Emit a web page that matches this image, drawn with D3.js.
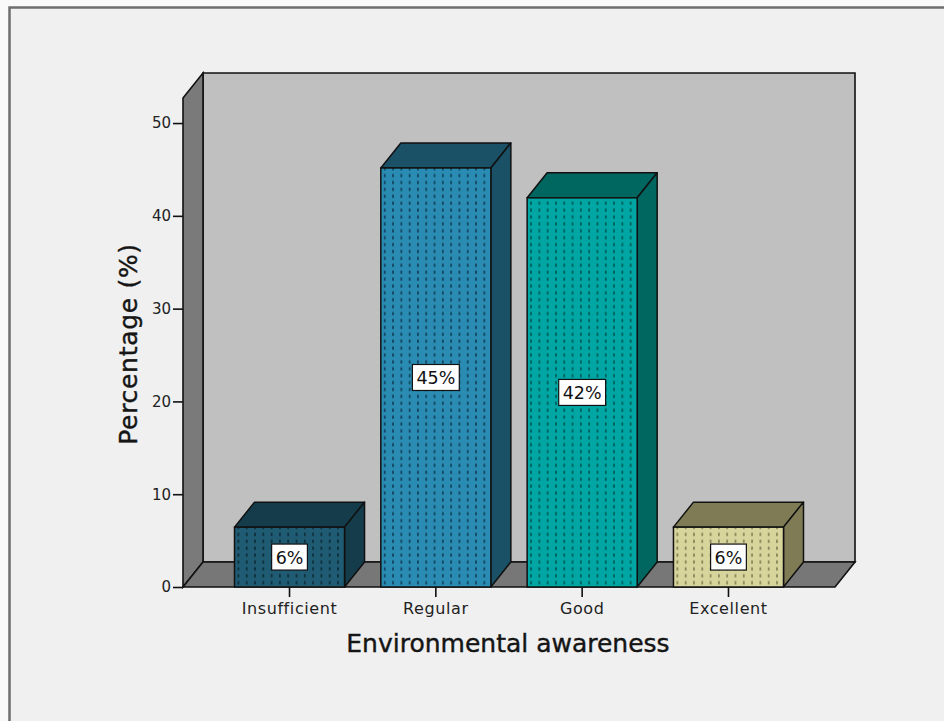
<!DOCTYPE html>
<html>
<head>
<meta charset="utf-8">
<script src="https://cdn.jsdelivr.net/npm/d3@7"></script>
<style>
  html, body { margin: 0; padding: 0; background: #f9f9f9; }
  svg { display: block; }
  text { font-family: "DejaVu Sans", Verdana, sans-serif; }
</style>
</head>
<body>
<svg id="chart" width="944" height="721"></svg>
<script>
// Environmental awareness levels and their share of respondents (%)
const categories = ["Insufficient", "Regular", "Good", "Excellent"];
const percentages = [6.45, 45.16, 41.94, 6.45];
const yTicks = [0, 10, 20, 30, 40, 50];

// Bar colours: front face, shaded top/side faces, dotted texture
const frontColors = ["#1f5b72", "#2a8cb2", "#00a6a4", "#d7d49c"];
const shadeColors = ["#143c4a", "#1b5167", "#006660", "#7f7c55"];
const dotColors   = ["#0e2e3b", "#134560", "#005f5b", "#8a875c"];

const svg = d3.select("#chart");
const W = 944, H = 721;

// Outer frame
svg.append("rect")
  .attr("x", 9.5).attr("y", 7.5)
  .attr("width", W + 20).attr("height", H + 20)
  .attr("fill", "#f0f0f0")
  .attr("stroke", "#6e6e6e")
  .attr("stroke-width", 2.5);

// Plot geometry (front plane) and 3D depth offset
const plotLeft = 183, plotRight = 835, plotBottom = 587, plotTop = 98;
const yMax = 52.7;
const DX = 20, DY = -25;

const y = d3.scaleLinear().domain([0, yMax]).range([plotBottom, plotTop]);
const x = d3.scaleBand()
  .domain(categories)
  .range([plotLeft, plotRight])
  .paddingInner(0.248)
  .paddingOuter(0.352);

const line = d3.line();
const outline = "#111";

// Back wall
svg.append("path")
  .attr("d", line([[plotLeft + DX, plotTop + DY], [plotRight + DX, plotTop + DY],
                   [plotRight + DX, plotBottom + DY], [plotLeft + DX, plotBottom + DY]]) + "Z")
  .attr("fill", "#c0c0c0").attr("stroke", outline).attr("stroke-width", 1.6);

// Left wall
svg.append("path")
  .attr("d", line([[plotLeft, plotTop], [plotLeft + DX, plotTop + DY],
                   [plotLeft + DX, plotBottom + DY], [plotLeft, plotBottom]]) + "Z")
  .attr("fill", "#7a7a7a").attr("stroke", outline).attr("stroke-width", 1.6);

// Floor
svg.append("path")
  .attr("d", line([[plotLeft, plotBottom], [plotLeft + DX, plotBottom + DY],
                   [plotRight + DX, plotBottom + DY], [plotRight, plotBottom]]) + "Z")
  .attr("fill", "#777777").attr("stroke", outline).attr("stroke-width", 1.6);

// Dotted fill patterns for the bar fronts
const defs = svg.append("defs");
categories.forEach((c, i) => {
  const p = defs.append("pattern")
    .attr("id", "dots" + i)
    .attr("patternUnits", "userSpaceOnUse")
    .attr("x", x(c) + 3).attr("y", 0)
    .attr("width", 8.3).attr("height", 6.9);
  p.append("rect").attr("width", 8.3).attr("height", 6.9).attr("fill", frontColors[i]);
  p.append("rect").attr("x", 0).attr("y", 1.5).attr("width", 1.8).attr("height", 3.2)
    .attr("fill", dotColors[i]);
});

// Bars
const data = categories.map((c, i) => ({ c, v: percentages[i], i }));
const bars = svg.append("g").selectAll("g").data(data).join("g");

bars.append("path") // top face
  .attr("d", d => {
    const x0 = x(d.c), x1 = x0 + x.bandwidth(), t = y(d.v);
    return line([[x0, t], [x0 + DX, t + DY], [x1 + DX, t + DY], [x1, t]]) + "Z";
  })
  .attr("fill", d => shadeColors[d.i]).attr("stroke", outline).attr("stroke-width", 1.5)
  .attr("stroke-linejoin", "round");

bars.append("path") // side face
  .attr("d", d => {
    const x1 = x(d.c) + x.bandwidth(), t = y(d.v), b = y(0);
    return line([[x1, t], [x1 + DX, t + DY], [x1 + DX, b + DY], [x1, b]]) + "Z";
  })
  .attr("fill", d => shadeColors[d.i]).attr("stroke", outline).attr("stroke-width", 1.5)
  .attr("stroke-linejoin", "round");

bars.append("rect") // front face
  .attr("x", d => x(d.c))
  .attr("y", d => y(d.v))
  .attr("width", x.bandwidth())
  .attr("height", d => y(0) - y(d.v))
  .attr("fill", d => "url(#dots" + d.i + ")")
  .attr("stroke", outline).attr("stroke-width", 1.5);

// Value labels in white boxes
const fmt = v => d3.format(".0f")(v) + "%";
bars.each(function (d) {
  const g = d3.select(this);
  const cx = x(d.c) + x.bandwidth() / 2;
  const cy = (y(d.v) + y(0)) / 2;
  const t = g.append("text")
    .attr("x", cx).attr("y", cy + 6.5)
    .attr("text-anchor", "middle")
    .attr("font-size", 17.5)
    .attr("fill", "#111")
    .text(fmt(d.v));
  const w = t.node().getComputedTextLength() + 8;
  g.insert("rect", "text")
    .attr("x", cx - w / 2).attr("y", cy - 13)
    .attr("width", w).attr("height", 26)
    .attr("fill", "#ffffff").attr("stroke", "#111").attr("stroke-width", 1.2);
});

// Y axis
const yAxis = svg.append("g")
  .attr("transform", `translate(${plotLeft},0)`)
  .call(d3.axisLeft(y).tickValues(yTicks).tickSize(10).tickSizeOuter(0).tickPadding(2));
yAxis.select(".domain").remove();
yAxis.selectAll(".tick line").attr("stroke", outline).attr("stroke-width", 1.6);
yAxis.selectAll(".tick text")
  .attr("font-family", "DejaVu Sans, sans-serif")
  .attr("font-size", 15).attr("fill", "#222");

// X axis
const xAxis = svg.append("g")
  .attr("transform", `translate(0,${plotBottom})`)
  .call(d3.axisBottom(x).tickSize(10).tickSizeOuter(0).tickPadding(6));
xAxis.select(".domain").remove();
xAxis.selectAll(".tick line").attr("stroke", outline).attr("stroke-width", 1.6);
xAxis.selectAll(".tick text")
  .attr("font-family", "DejaVu Sans, sans-serif")
  .attr("font-size", 16).attr("letter-spacing", "0.6px").attr("fill", "#222");

// Axis titles
svg.append("text")
  .attr("x", 508).attr("y", 652)
  .attr("text-anchor", "middle")
  .attr("font-size", 25).attr("fill", "#151515")
  .attr("stroke", "#151515").attr("stroke-width", 0.4)
  .text("Environmental awareness");

svg.append("text")
  .attr("transform", "translate(137,344) rotate(-90)")
  .attr("text-anchor", "middle")
  .attr("font-size", 25).attr("letter-spacing", "0.7px").attr("fill", "#151515")
  .attr("stroke", "#151515").attr("stroke-width", 0.4)
  .text("Percentage (%)");
</script>
</body>
</html>
